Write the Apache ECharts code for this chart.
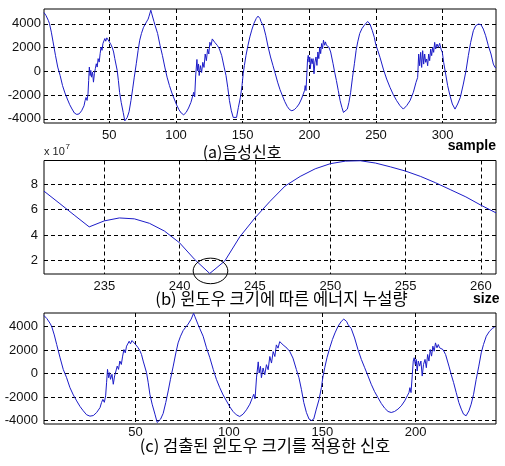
<!DOCTYPE html>
<html><head><meta charset="utf-8">
<script src="https://cdn.jsdelivr.net/npm/echarts@6/dist/echarts.min.js"></script>
<style>html,body{margin:0;padding:0;background:#fff}#c{width:505px;height:466px}</style>
</head><body><div id="c"></div>
<script>
// (a) speech signal: sample index and amplitude
const signalSamples = [
1,2.5,4.2,5.1,6.5,7.8,9.6,11.3,13.1,14.9,16.7,18.5,20.3,22,23.8,25.6,26.5,27.4,29.2,31,31.8,32.5,33.3,34,34.5,35,35.6,36.1,36.6,37.4,38.1,38.8,39.5,40.2,40.9,41.6,42.4,43.1,43.8,44.5,45.2,45.9,46.6,47.3,48.1,49.1,50.2,51.2,52.3,53.2,54.1,55.9,56.8,57.7,58.9,60.4,61.6,62.3,63.4,64.8,66.2,67.5,68.7,70.2,71.6,72.8,74.1,75.5,76.8,78.2,79.1,79.8,80.3,81.1,81.7,82.3,83.5,84.4,86.2,88,89.8,91.6,93.3,95.1,96.9,98.7,100.5,102.2,104,105.8,107.6,109.4,111.2,112.6,113.3,114,114.8,115.7,116.2,116.9,117.4,118.3,119.2,120.1,121,121.9,122.8,123.7,124.6,125.4,126.3,127.2,128.1,129,129.9,131.1,132.6,134.3,136.1,137.5,138.8,140.1,141.5,142.9,144.2,145.4,146.8,148.3,149.5,150.4,151.3,152.5,154,155.4,156.8,158.4,160.2,161.5,163,163.8,165.5,167.3,169.1,170.9,172.7,174.5,176.2,178,179.8,181.6,183.4,185.2,186.9,188.7,190.5,192.3,194.1,195.5,196.4,196.9,197.5,198.2,198.7,199.2,199.8,200.3,200.8,201.4,202.1,202.8,203.5,204.2,205,205.7,206.4,207.1,207.8,208.5,209.2,209.9,210.6,211.4,212.1,212.8,213.7,214.6,216,216.7,217.8,219,220.3,221.7,223.1,224.4,225.6,227,228.5,229.7,231,232.4,233.8,235.1,236.3,237.8,239.5,241.3,242.2,243.75,245.5,247.25,248.75,249.75,250.75,253,255.5,258,260.5,263,265.5,268,270.5,273,275.5,278,280,281.25,282,282.75,283.5,284.25,285,285.75,286.5,287.25,288,288.75,289.5,290.25,291,291.75,292.5,293.25,294,294.75,295.75,296.75,297.75,298.75,299.75,300.75,302.25,303.75,305.5,307.25,309.25,311.25,313.25,315.5,317.5,319.25,321,323,324.75,326.75,328.75,330.5,332.25,334.25,336.25,338,339.25,340
];
const signalValues = [
4950,4700,4300,4030,3300,2480,1350,360,-350,-1200,-1820,-2330,-2810,-3170,-3510,-3630,-3650,-3580,-3320,-2900,-2470,-2200,-2450,-1900,-780,360,-350,80,-490,-60,-910,-200,220,640,360,1070,780,1490,2050,1770,2340,2200,2760,2540,2820,2650,2450,2250,1970,1630,1070,80,-780,-1770,-2610,-3460,-4170,-4300,-3890,-3400,-2470,-1480,-490,640,1770,2620,3190,3670,3950,4230,4400,4650,4550,5150,4900,4850,4180,3840,3190,2200,1350,360,-490,-1200,-1820,-2330,-2840,-3230,-3520,-3660,-3460,-3090,-2610,-2050,-1760,-2150,-300,1000,50,620,-350,480,-100,760,330,1460,900,1880,1460,2450,2170,2730,2880,2450,2600,2170,1880,1320,360,-350,-1340,-2470,-3320,-3880,-4000,-3880,-3030,-2190,-1200,-210,500,1350,2200,2900,3470,4030,4460,4650,4450,4180,3840,3040,2050,1210,500,-210,-910,-1540,-2050,-2550,-2950,-3230,-3320,-3230,-3030,-2750,-2330,-1900,-1620,-1200,-1620,-70,1070,1350,780,1210,220,1070,640,1070,-210,780,1210,500,1630,1070,2050,1490,2340,1910,2620,2200,2480,2200,2340,2050,1630,1490,640,-70,-770,-1620,-2470,-3030,-3460,-3600,-3180,-2610,-1760,-490,640,1770,2480,3190,3610,3890,3950,4200,3980,3420,2860,2300,2160,1180,190,-650,-1350,-1970,-2470,-2890,-3180,-2890,-2470,-1770,-930,-510,1460,470,1600,330,1740,610,1460,760,1040,470,1460,900,1880,1320,2020,1600,2440,1880,2300,2020,2360,1880,1600,760,-230,-1210,-2050,-2750,-3180,-2750,-2190,-1070,50,1320,2440,3420,3840,3980,3930,3560,3000,2160,1460,610,330,300
];
// (b) energy leakage per window size (values in units of 10^7)
const windowSizes = [231,232,233,234,235,236,237,238,239,240,241,242,243,244,245,246,247,248,249,250,251,252,253,254,255,256,257,258,259,260,261];
const energyValues = [7.45,6.52,5.58,4.65,5.12,5.35,5.28,4.93,4.32,3.4,2.1,1.0,1.98,3.88,5.35,6.65,7.85,8.6,9.2,9.6,9.8,9.83,9.65,9.35,9.02,8.6,8.1,7.55,7.0,6.35,5.75];
const detectedWindow = 242;
// tick labels
const signalXTicks = [50,100,150,200,250,300];
const appliedXTicks = [50,100,150,200];
const signalYTicks = [-4000,-2000,0,2000,4000];
const sizeXTicks = [235,240,245,250,255,260];
const energyYTicks = [2,4,6,8];
// marked region around the minimum (size range, energy range)
const markSizeRange = [240.9, 243.2];
const markEnergyRange = [0.2, 2.2];

const chart = echarts.init(document.getElementById('c'), null, {renderer:'canvas'});
const LINE = '#1c1cc8';
const FONT = 'Liberation Sans, Arial, sans-serif';
const grid = (top, h) => ({left:44, top:top, width:452, height:h, show:true, borderColor:'#000', borderWidth:1, backgroundColor:'#fff'});
const split = {show:true, lineStyle:{color:'#000', width:1, type:[4,3]}};
const plain = v => String(v);
function ax(gi, min, max, ticks, margin){
  return {type:'value', gridIndex:gi, min:min, max:max,
    axisLine:{show:false}, axisTick:{show:false, customValues:ticks},
    axisLabel:{customValues:ticks, formatter:plain, fontFamily:FONT, fontSize:13, color:'#111', margin:margin},
    splitLine:split};
}
const sig = signalSamples.map((s,i)=>[s, signalValues[i]]);
const applied = sig.filter(p => p[0] <= detectedWindow + 0.5);
const energy = windowSizes.map((s,i)=>[s, energyValues[i]]);

const option = {
  animation:false,
  backgroundColor:'#fff',
  grid:[grid(9,114), grid(160.5,113.5), grid(313,111)],
  xAxis:[ax(0,1,340,signalXTicks,6), ax(1,231,261,sizeXTicks,6), ax(2,1,243,appliedXTicks,2)],
  yAxis:[ax(0,-4350,5250,signalYTicks,3), ax(1,0.96,9.85,energyYTicks,6), ax(2,-4300,5170,signalYTicks,6)],
  series:[
    {type:'line', xAxisIndex:0, yAxisIndex:0, data:sig, showSymbol:false, lineStyle:{color:LINE, width:1}},
    {type:'line', xAxisIndex:1, yAxisIndex:1, data:energy, showSymbol:false, lineStyle:{color:LINE, width:1}},
    {type:'line', xAxisIndex:2, yAxisIndex:2, data:applied, showSymbol:false, lineStyle:{color:LINE, width:1}}
  ]
};
chart.setOption(option);

const p1 = chart.convertToPixel({xAxisIndex:1, yAxisIndex:1}, [markSizeRange[0], markEnergyRange[1]]);
const p2 = chart.convertToPixel({xAxisIndex:1, yAxisIndex:1}, [markSizeRange[1], markEnergyRange[0]]);
const KR = '"Noto Sans CJK KR", sans-serif';
chart.setOption({graphic:[
  {type:'ellipse', shape:{cx:(p1[0]+p2[0])/2, cy:(p1[1]+p2[1])/2, rx:Math.abs(p2[0]-p1[0])/2, ry:Math.abs(p2[1]-p1[1])/2}, style:{fill:null, stroke:'#000', lineWidth:1}, z:100},
  {type:'text', x:242, y:152, style:{text:'(a)음성신호', fontSize:16, fontFamily:KR, fill:'#000', align:'center', verticalAlign:'middle'}},
  {type:'text', x:496, y:146, style:{text:'sample', fontSize:14, fontWeight:'bold', fontFamily:FONT, fill:'#000', align:'right', verticalAlign:'middle'}},
  {type:'text', x:44, y:152, style:{text:'x 10', fontSize:11, fontFamily:FONT, fill:'#222', align:'left', verticalAlign:'middle'}},
  {type:'text', x:65.5, y:147, style:{text:'7', fontSize:8, fontFamily:FONT, fill:'#222', align:'left', verticalAlign:'middle'}},
  {type:'text', x:281.5, y:299, style:{text:'(b) 윈도우 크기에 따른 에너지 누설량', fontSize:16.5, fontFamily:KR, fill:'#000', align:'center', verticalAlign:'middle'}},
  {type:'text', x:473, y:299, style:{text:'size', fontSize:14, fontWeight:'bold', fontFamily:FONT, fill:'#000', align:'left', verticalAlign:'middle'}},
  {type:'text', x:265, y:446, style:{text:'(c) 검출된 윈도우 크기를 적용한 신호', fontSize:16.5, fontFamily:KR, fill:'#000', align:'center', verticalAlign:'middle'}}
]});
</script>
</body></html>
